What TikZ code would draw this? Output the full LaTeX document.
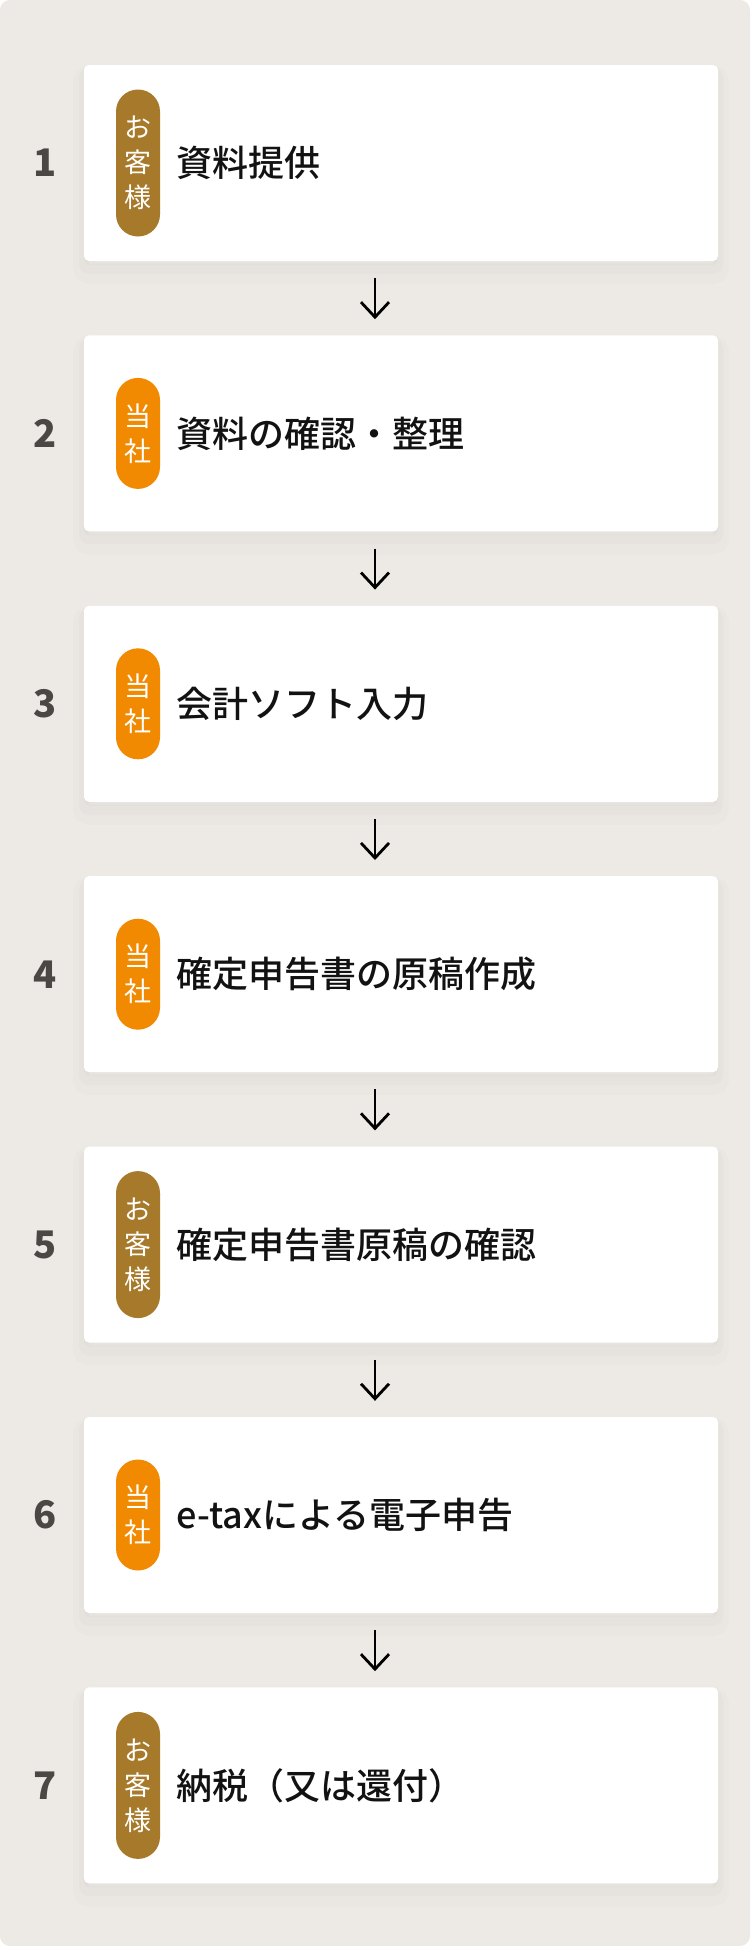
\documentclass[tikz,border=0pt]{standalone}
\usepackage{fontspec}
\setmainfont{Noto Sans CJK JP}
\newfontfamily\medfont{Noto Sans CJK JP Medium}
\usetikzlibrary{positioning,arrows.meta}
\definecolor{paper}{HTML}{EDEAE5}
\definecolor{brownish}{HTML}{A7792A}
\definecolor{orangey}{HTML}{F18A00}
\definecolor{numgray}{HTML}{4A4744}

\begin{document}
\begin{tikzpicture}[x=1pt,y=-1pt,font=\fontsize{34}{40}\selectfont,
  card/.style={fill=white,rounded corners=5pt,minimum width=634pt,minimum height=196pt,inner sep=0pt,
    preaction={fill=black,opacity=.015,transform canvas={yshift=-4pt}},
    preaction={draw=black,line width=10pt,opacity=.015,transform canvas={yshift=-8pt}},
    preaction={draw=black,line width=22pt,opacity=.01,transform canvas={yshift=-12pt}}},
  badge/.style={fill=#1,text=white,rounded corners=22pt,minimum width=44pt,inner sep=0pt,align=center,
    font=\fontsize{27}{35}\selectfont},
  guest/.style={badge=brownish,minimum height=147pt},
  us/.style={badge=orangey,minimum height=111pt},
  steptext/.style={inner sep=0pt,anchor=west,text=black!93,font=\fontsize{36}{42}\medfont},
  stepno/.style={text=numgray,font=\fontsize{38}{40}\selectfont\bfseries},
  flow/.style={-{Straight Barb[length=15pt,width=28pt]},line width=2.8pt}]
  \useasboundingbox (0,0) rectangle (750,1946);
  \fill[white] (0,0) rectangle (750,1946);
  \fill[paper,rounded corners=10pt] (0,0) rectangle (750,1946);

  % step cards
  \node[card] (s1) at (401,163) {};
  \node[card, below=74pt of s1] (s2) {};
  \node[card, below=74pt of s2] (s3) {};
  \node[card, below=74pt of s3] (s4) {};
  \node[card, below=74pt of s4] (s5) {};
  \node[card, below=74pt of s5] (s6) {};
  \node[card, below=74pt of s6] (s7) {};

  % who does it
  \node[guest, right=32pt of s1.west] (b1) {お\\客\\様};
  \node[us, right=32pt of s2.west] (b2) {当\\社};
  \node[us, right=32pt of s3.west] (b3) {当\\社};
  \node[us, right=32pt of s4.west] (b4) {当\\社};
  \node[guest, right=32pt of s5.west] (b5) {お\\客\\様};
  \node[us, right=32pt of s6.west] (b6) {当\\社};
  \node[guest, right=32pt of s7.west] (b7) {お\\客\\様};

  % what is done
  \node[steptext, right=16pt of b1] (t1) {資料提供};
  \node[steptext, right=16pt of b2] (t2) {資料の確認・整理};
  \node[steptext, right=16pt of b3] (t3) {会計ソフト入力};
  \node[steptext, right=16pt of b4] (t4) {確定申告書の原稿作成};
  \node[steptext, right=16pt of b5] (t5) {確定申告書原稿の確認};
  \node[steptext, right=16pt of b6] (t6) {e-taxによる電子申告};
  \node[steptext, right=16pt of b7] (t7) {納税（又は還付）};

  \node[stepno] (n1) at ([xshift=-39pt]s1.west) {1};
  \node[stepno] (n2) at ([xshift=-39pt]s2.west) {2};
  \node[stepno] (n3) at ([xshift=-39pt]s3.west) {3};
  \node[stepno] (n4) at ([xshift=-39pt]s4.west) {4};
  \node[stepno] (n5) at ([xshift=-39pt]s5.west) {5};
  \node[stepno] (n6) at ([xshift=-39pt]s6.west) {6};
  \node[stepno] (n7) at ([xshift=-39pt]s7.west) {7};

  \draw[flow] ([xshift=-26pt,yshift=-17pt]s1.south) -- ([xshift=-26pt,yshift=16pt]s2.north);
  \draw[flow] ([xshift=-26pt,yshift=-17pt]s2.south) -- ([xshift=-26pt,yshift=16pt]s3.north);
  \draw[flow] ([xshift=-26pt,yshift=-17pt]s3.south) -- ([xshift=-26pt,yshift=16pt]s4.north);
  \draw[flow] ([xshift=-26pt,yshift=-17pt]s4.south) -- ([xshift=-26pt,yshift=16pt]s5.north);
  \draw[flow] ([xshift=-26pt,yshift=-17pt]s5.south) -- ([xshift=-26pt,yshift=16pt]s6.north);
  \draw[flow] ([xshift=-26pt,yshift=-17pt]s6.south) -- ([xshift=-26pt,yshift=16pt]s7.north);
\end{tikzpicture}
\end{document}
